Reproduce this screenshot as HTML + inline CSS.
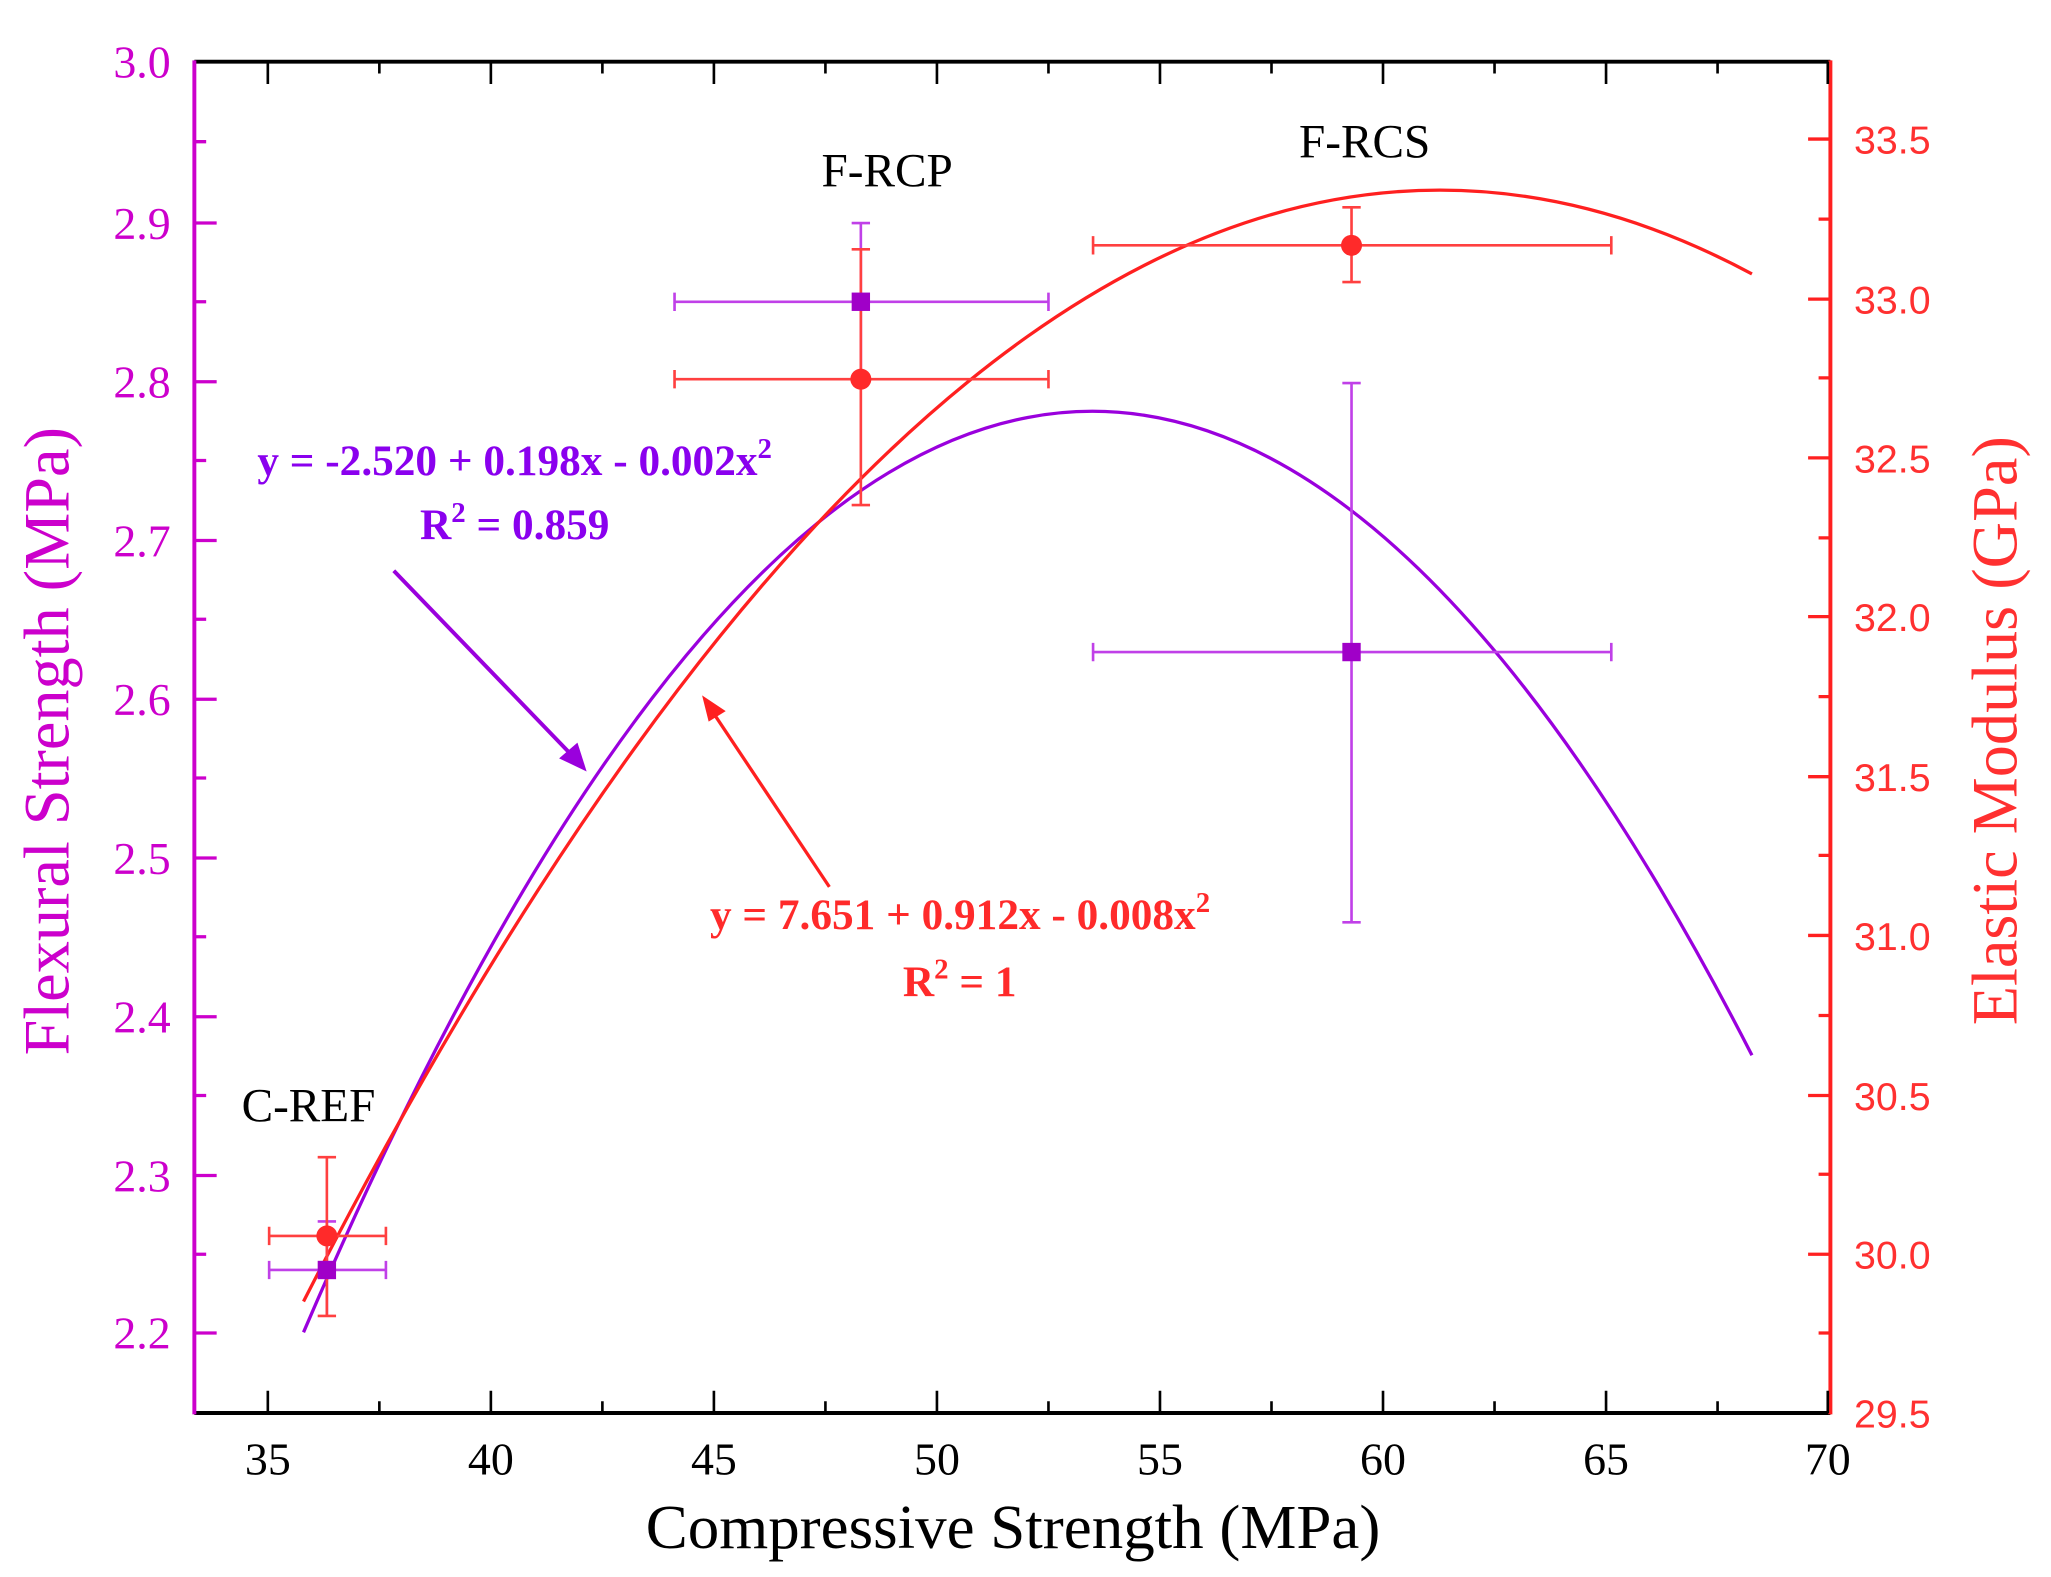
<!DOCTYPE html>
<html><head><meta charset="utf-8"><style>html,body{margin:0;padding:0;background:#fff}svg{display:block}</style></head>
<body>
<svg xmlns="http://www.w3.org/2000/svg" width="2051" height="1577" viewBox="0 0 1563 1202" font-family="'Liberation Serif',serif">
<rect width="1563" height="1202" fill="#fff"/>
<line x1="148" y1="47" x2="1395" y2="47" stroke="#000" stroke-width="3"/>
<line x1="148" y1="1077" x2="1395" y2="1077" stroke="#000" stroke-width="3"/>
<line x1="148" y1="46" x2="148" y2="1078" stroke="#cc00cc" stroke-width="3"/>
<line x1="1395" y1="46" x2="1395" y2="1078" stroke="#ff2020" stroke-width="3"/>
<g stroke="#000" stroke-width="2">
<path d="M204 1077v-17M374 1077v-17M544 1077v-17M714 1077v-17M884 1077v-17M1054 1077v-17M1224 1077v-17M1393 1077v-17"/>
<path d="M289 1077v-9M459 1077v-9M629 1077v-9M799 1077v-9M969 1077v-9M1139 1077v-9M1309 1077v-9"/>
<path d="M204 47v17M374 47v17M544 47v17M714 47v17M884 47v17M1054 47v17M1224 47v17M1393 47v17"/>
<path d="M289 47v9M459 47v9M629 47v9M799 47v9M969 47v9M1139 47v9M1309 47v9"/>
</g>
<g font-size="35" fill="#000" text-anchor="middle">
<text x="204" y="1124">35</text><text x="374" y="1124">40</text><text x="544" y="1124">45</text><text x="714" y="1124">50</text><text x="884" y="1124">55</text><text x="1054" y="1124">60</text><text x="1224" y="1124">65</text><text x="1393" y="1124">70</text>
</g>
<text x="772" y="1180" font-size="48" text-anchor="middle" fill="#000">Compressive Strength (MPa)</text>
<g stroke="#cc00cc" stroke-width="2.5">
<path d="M148 170h17M148 291h17M148 412h17M148 533h17M148 654h17M148 775h17M148 896h17M148 1016h17"/>
<path d="M148 108h9M148 230h9M148 351h9M148 472h9M148 593h9M148 714h9M148 835h9M148 956h9"/>
</g>
<g font-size="35" fill="#cc00cc" text-anchor="end">
<text x="130" y="59">3.0</text><text x="130" y="182">2.9</text><text x="130" y="303">2.8</text><text x="130" y="424">2.7</text><text x="130" y="545">2.6</text><text x="130" y="666">2.5</text><text x="130" y="787">2.4</text><text x="130" y="908">2.3</text><text x="130" y="1028">2.2</text>
</g>
<text transform="translate(52,565) rotate(-90)" font-size="49" fill="#cc00cc" text-anchor="middle">Flexural Strength (MPa)</text>
<g stroke="#ff2020" stroke-width="2.5">
<path d="M1395 106h-17M1395 228h-17M1395 349h-17M1395 470h-17M1395 592h-17M1395 713h-17M1395 835h-17M1395 956h-17"/>
<path d="M1395 167h-9M1395 288h-9M1395 410h-9M1395 531h-9M1395 652h-9M1395 774h-9M1395 895h-9M1395 1016h-9"/>
</g>
<g font-size="30" fill="#ff3030" font-family="'Liberation Sans',sans-serif">
<text x="1413" y="117">33.5</text><text x="1413" y="239">33.0</text><text x="1413" y="360">32.5</text><text x="1413" y="481">32.0</text><text x="1413" y="603">31.5</text><text x="1413" y="724">31.0</text><text x="1413" y="846">30.5</text><text x="1413" y="967">30.0</text><text x="1413" y="1088">29.5</text>
</g>
<text transform="translate(1537,557) rotate(-90)" font-size="49" fill="#ff3030" text-anchor="middle">Elastic Modulus (GPa)</text>
<path d="M231.2 1015.5 Q783.2 -273.5 1335.2 804.3" fill="none" stroke="#9a00dd" stroke-width="2.5"/>
<path d="M231.2 992 Q783.2 -87.7 1335.2 208.8" fill="none" stroke="#ff2020" stroke-width="2.5"/>
<g stroke="#c040e8" stroke-width="2" fill="none">
<path d="M205 968h89M205 961v14M294 961v14M249 931v72M242 931h14"/>
<path d="M514 230h285M514 223v14M799 223v14M656 170v120M649 170h14"/>
<path d="M833 497h395M833 490v14M1228 490v14M1030 292v411M1023 292h14M1023 703h14"/>
</g>
<g stroke="#ff4040" stroke-width="2" fill="none">
<path d="M205 942h89M205 935v14M294 935v14M249 882v121M242 882h14M242 1003h14"/>
<path d="M514 289h285M514 282v14M799 282v14M656 190v195M649 190h14M649 385h14"/>
<path d="M833 187h395M833 180v14M1228 180v14M1030 158v57M1023 158h14M1023 215h14"/>
</g>
<g fill="#a000c8">
<rect x="242" y="961" width="14" height="14"/><rect x="649" y="223" width="14" height="14"/><rect x="1023" y="490" width="14" height="14"/>
</g>
<g fill="#ff2a2a">
<circle cx="249" cy="942" r="8"/><circle cx="656" cy="289" r="8"/><circle cx="1030" cy="187" r="8"/>
</g>
<g font-size="36" fill="#000">
<text x="626" y="142">F-RCP</text><text x="990" y="120">F-RCS</text><text x="184" y="855">C-REF</text>
</g>
<g font-size="33" font-weight="bold" fill="#8a00ee">
<text x="196" y="362">y = -2.520 + 0.198x - 0.002x<tspan dy="-13" font-size="22">2</tspan></text>
<text x="320" y="411">R<tspan dy="-13" font-size="22">2</tspan><tspan dy="13"> = 0.859</tspan></text>
</g>
<g font-size="33" font-weight="bold" fill="#ff2a2a">
<text x="541" y="708">y = 7.651 + 0.912x - 0.008x<tspan dy="-13" font-size="22">2</tspan></text>
<text x="688" y="759">R<tspan dy="-13" font-size="22">2</tspan><tspan dy="13"> = 1</tspan></text>
</g>
<line x1="300" y1="435" x2="437" y2="577" stroke="#9a00dd" stroke-width="3"/>
<polygon points="447,588 426,578 440,566" fill="#9a00dd"/>
<line x1="632" y1="676" x2="542" y2="541" stroke="#ff2020" stroke-width="2.5"/>
<polygon points="535,530 553,542 540,550" fill="#ff2020"/>
</svg>
</body></html>
